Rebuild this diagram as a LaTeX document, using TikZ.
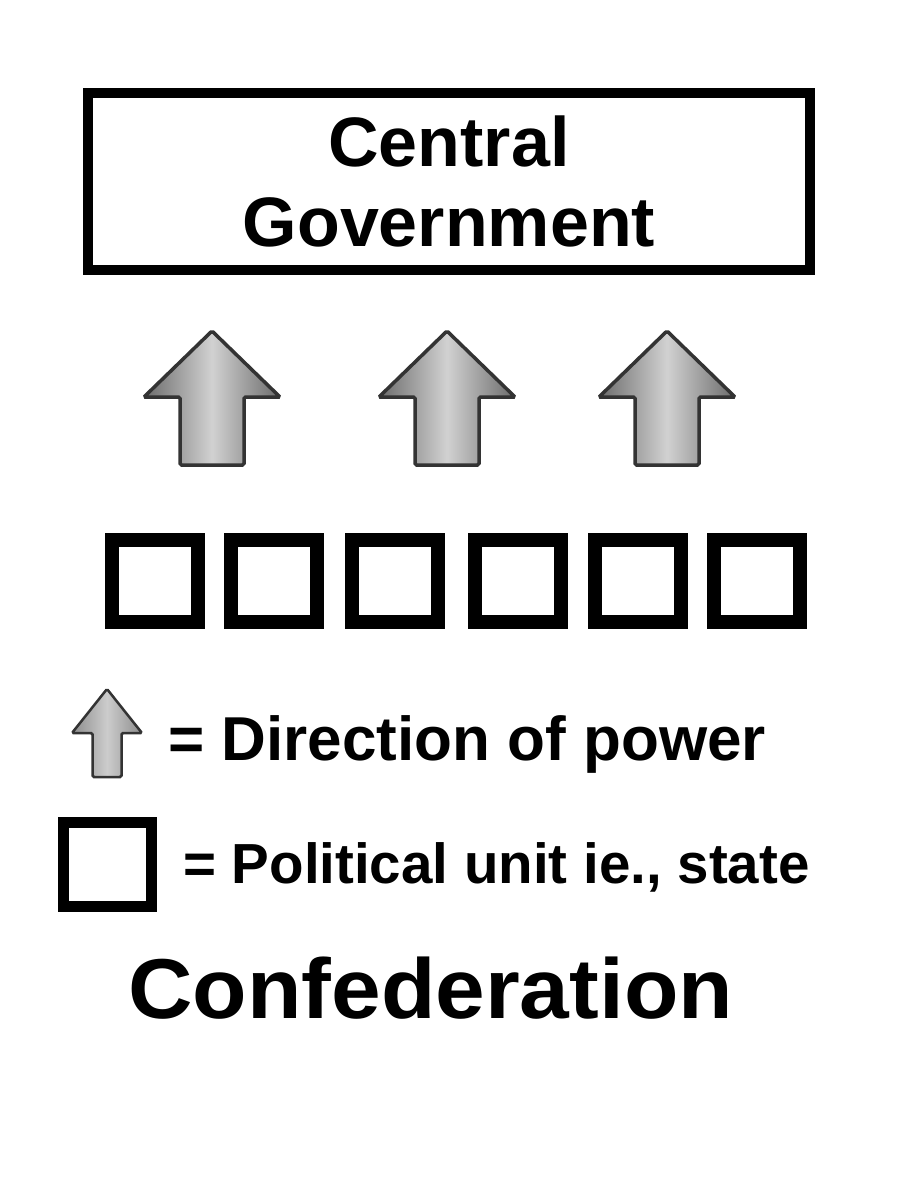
\documentclass[tikz,border=0pt]{standalone}
\usepackage{fontspec}
\setmainfont{Liberation Sans}
\begin{document}
\begin{tikzpicture}[x=1pt,y=-1pt,
  cgbox/.style={draw=black, line width=10pt, minimum width=722pt, minimum height=177pt,
    inner sep=0pt, align=center, font=\fontsize{70}{80}\selectfont\bfseries},
  unit/.style={draw=black, line width=14pt, minimum width=86pt, minimum height=82pt, inner sep=0pt},
  legunit/.style={draw=black, line width=11pt, minimum width=88pt, minimum height=84pt, inner sep=0pt},
  arrowfill/.style={draw=black!80, line width=3.5pt, line join=miter, rounded corners=1.5pt,
    left color=black!58, right color=black!58, middle color=black!18},
  legtext/.style={anchor=base west, inner sep=0pt, font=\bfseries}]
\useasboundingbox[fill=white] (0,0) rectangle (903,1200);

% central government
\node[cgbox] (cg) at (449,181.5) {Central\\Government};

% upward arrows
\foreach \cx/\nm in {212/a1,447/a2,667/a3}{
  \coordinate (\nm) at (\cx,331);
  \path[arrowfill] (\nm) -- ++(68,66) -- ++(-36,0) -- ++(0,68) -- ++(-64,0) -- ++(0,-68) -- ++(-36,0) -- cycle;
}

% political units
\foreach \cx/\nm in {155/u1,274/u2,395/u3,518/u4,638/u5,757/u6}{
  \node[unit] (\nm) at (\cx,581) {};
}

% legend
\coordinate (la) at (107,689);
\path[arrowfill, line width=2.5pt, left color=black!45, right color=black!45, middle color=black!20]
  (la) -- ++(35,44) -- ++(-20.5,0) -- ++(0,44) -- ++(-29,0) -- ++(0,-44) -- ++(-20.5,0) -- cycle;
\node[legtext, font=\fontsize{62}{70}\selectfont\bfseries] (lt1) at (168,760) {= Direction of power};

\node[legunit] (lu) at (107.5,864.5) {};
\node[legtext, font=\fontsize{56.5}{64}\selectfont\bfseries] (lt2) at (183,883) {= Political unit ie., state};

\node[legtext, font=\fontsize{85}{90}\selectfont\bfseries, xscale=1.05, transform shape] (title) at (128,1018) {Confederation};
\end{tikzpicture}
\end{document}
